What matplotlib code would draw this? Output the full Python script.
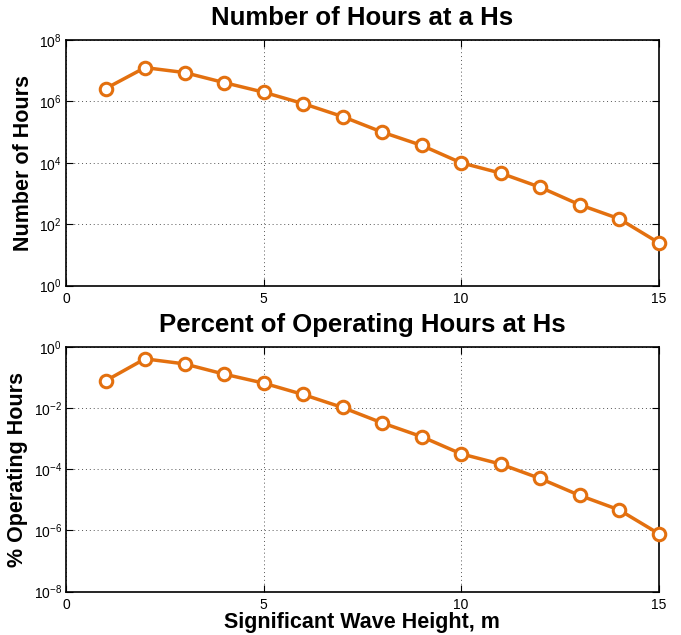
import math
import matplotlib
matplotlib.use("Agg")
import matplotlib.pyplot as plt
from matplotlib.ticker import NullLocator, FixedLocator

hs = [1, 2, 3, 4, 5, 6, 7, 8, 9, 10, 11, 12, 13, 14, 15]
hours = [2.6e6, 1.26e7, 8.7e6, 4.1e6, 2.0e6, 8.5e5, 3.2e5, 1.0e5, 3.7e4,
         1.0e4, 4.6e3, 1.6e3, 430, 150, 25]
pct_hours = [0.078, 0.41, 0.28, 0.13, 0.066, 0.028, 0.0105, 0.0033, 0.00117,
             0.00032, 0.000148, 5.0e-5, 1.4e-5, 4.7e-6, 7.9e-7]
xticks = [0, 5, 10, 15]
top_yticks = [1e0, 1e2, 1e4, 1e6, 1e8]
bot_yticks = [1e-8, 1e-6, 1e-4, 1e-2, 1e0]

plt.rcParams['font.family'] = ['Liberation Sans', 'DejaVu Sans']
plt.rcParams['mathtext.fontset'] = 'custom'
plt.rcParams['mathtext.rm'] = 'Liberation Sans'

color = '#E3700F'
W, H = 681, 635
fig = plt.figure(figsize=(W / 100, H / 100), dpi=100)

def rect(l, t, r, b):
    return [l / W, 1 - b / H, (r - l) / W, (b - t) / H]

ax1 = fig.add_axes(rect(66, 40, 658.5, 285.5))
ax2 = fig.add_axes(rect(66, 347, 658.5, 591.5))

def style(ax, yticks, ylim):
    ax.set_yscale('log')
    ax.set_xlim(0, 15)
    ax.set_ylim(*ylim)
    ax.xaxis.set_major_locator(FixedLocator(xticks))
    ax.yaxis.set_major_locator(FixedLocator(yticks))
    ax.yaxis.set_minor_locator(NullLocator())
    ax.xaxis.set_minor_locator(NullLocator())
    ax.set_xticklabels([str(v) for v in xticks])
    ax.set_yticklabels([r'$10^{%d}$' % int(round(math.log10(v))) for v in yticks])
    ax.tick_params(direction='in', top=True, right=True, length=5, width=0.8,
                   labelsize=10, colors='black')
    ax.tick_params(axis='y', pad=3)
    ax.tick_params(axis='x', pad=5)
    ax.grid(True, color='#555555', linestyle=(0, (1, 3)), linewidth=0.7)
    for s in ax.spines.values():
        s.set_linewidth(1.2)
        s.set_color('black')

ax1.plot(hs, hours, color=color, linewidth=2.5, marker='o', markersize=9,
         markerfacecolor='white', markeredgecolor=color, markeredgewidth=2.2, clip_on=False, zorder=5)
style(ax1, top_yticks, (1e0, 1e8))
ax1.set_title('Number of Hours at a Hs', fontsize=18.5, fontweight='bold', pad=11)
ax1.set_ylabel('Number of Hours', fontsize=15.5, fontweight='bold', labelpad=4)

ax2.plot(hs, pct_hours, color=color, linewidth=2.5, marker='o', markersize=9,
         markerfacecolor='white', markeredgecolor=color, markeredgewidth=2.2, clip_on=False, zorder=5)
style(ax2, bot_yticks, (1e-8, 1e0))
ax2.set_title('Percent of Operating Hours at Hs', fontsize=18.5, fontweight='bold', pad=11)
ax2.set_ylabel('% Operating Hours', fontsize=15.5, fontweight='bold', labelpad=4)
ax2.set_xlabel('Significant Wave Height, m', fontsize=15.5, fontweight='bold', labelpad=0)

fig.savefig('out.png', dpi=100, facecolor='white')
